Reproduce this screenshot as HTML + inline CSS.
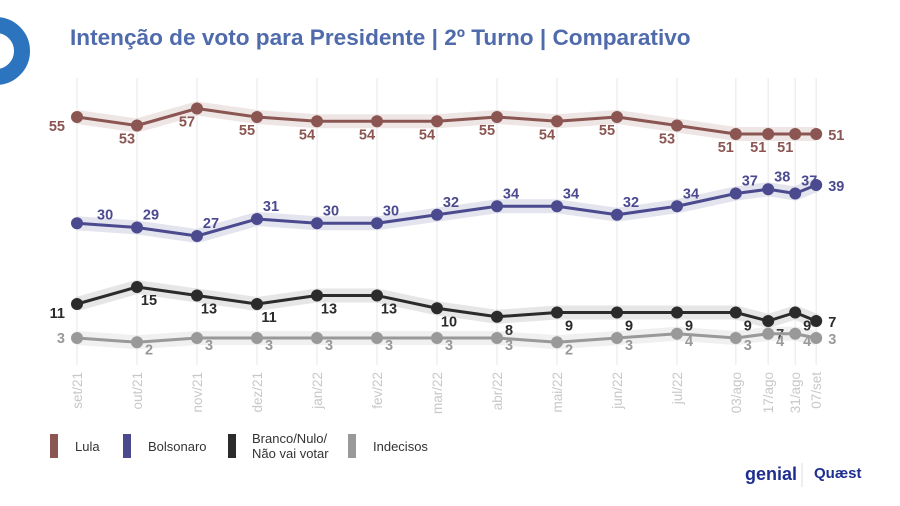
<!DOCTYPE html>
<html><head><meta charset="utf-8"><style>
body{margin:0;background:#fff;width:900px;height:501px;overflow:hidden;font-family:"Liberation Sans",sans-serif}
</style></head><body>
<svg id="c" width="900" height="501" xmlns="http://www.w3.org/2000/svg">
<circle cx="-4" cy="51" r="26" fill="none" stroke="#2d74bf" stroke-width="16"/>
<text x="70" y="45" font-size="22.6" font-weight="bold" fill="#4f6bab">Intenção de voto para Presidente | 2º Turno | Comparativo</text>
<g id="grid"></g><g id="series"></g><g id="xlabels"></g>
<g font-size="13" fill="#333">
<rect x="50" y="434" width="8" height="24" fill="#8b5552"/>
<text x="75" y="451">Lula</text>
<rect x="123" y="434" width="8" height="24" fill="#4b4a8f"/>
<text x="148" y="451">Bolsonaro</text>
<rect x="228" y="434" width="8" height="24" fill="#2b2b2b"/>
<text x="252" y="443">Branco/Nulo/</text>
<text x="252" y="458">Não vai votar</text>
<rect x="348" y="434" width="8" height="24" fill="#999"/>
<text x="373" y="451">Indecisos</text>
</g>
<text x="745" y="480" font-size="18" font-weight="bold" fill="#1f2f8f">genial</text>
<line x1="802" y1="463" x2="802" y2="487" stroke="#ddd"/>
<text x="814" y="478" font-size="15" font-weight="bold" fill="#1f2f8f">Quæst</text>
</svg>
<script>
const categories=["set/21","out/21","nov/21","dez/21","jan/22","fev/22","mar/22","abr/22","mai/22","jun/22","jul/22","03/ago","17/ago","31/ago","07/set"];
const timeMonths=[0,1,2,3,4,5,6,7,8,9,10,10.98,11.52,11.97,12.32];
const lula=[55,53,57,55,54,54,54,55,54,55,53,51,51,51,51];
const bolsonaro=[30,29,27,31,30,30,32,34,34,32,34,37,38,37,39];
const branco=[11,15,13,11,13,13,10,8,9,9,9,9,7,9,7];
const indecisos=[3,2,3,3,3,3,3,3,2,3,4,3,4,4,3];
const X=t=>77+t*60;
const Y=v=>117+(55-v)*4.25;
const NS="http://www.w3.org/2000/svg";
function mk(tag,attrs,parent){const e=document.createElementNS(NS,tag);for(const k in attrs)e.setAttribute(k,attrs[k]);parent.appendChild(e);return e;}
const grid=document.getElementById('grid'),ser=document.getElementById('series'),xl=document.getElementById('xlabels');
categories.forEach((c,i)=>{
 const l=mk('line',{x1:X(timeMonths[i]),x2:X(timeMonths[i]),y1:78,y2:365,stroke:'#ebebeb','stroke-width':1.2},grid);
 
 
 const t=mk('text',{x:0,y:0,'font-size':13.5,fill:'#c8c8c8','text-anchor':'end',transform:`translate(${X(timeMonths[i])+5},372) rotate(-90)`},xl);
 t.textContent=c;
 
 
});
const specs=[
 {name:'lula',data:lula,color:'#8b5552',band:'#8b5552',dx:-10,dy:18},
 {name:'bolsonaro',data:bolsonaro,color:'#4b4a8f',band:'#4b4a8f',dx:14,dy:-8},
 {name:'branco',data:branco,color:'#2b2b2b',band:'#555',dx:12,dy:18},
 {name:'indecisos',data:indecisos,color:'#999',band:'#999',dx:12,dy:12}
];
specs.forEach(s=>{
 const pts=s.data.map((v,i)=>X(timeMonths[i])+','+Y(v)).join(' ');
 const b=mk('polyline',{points:pts,fill:'none',stroke:s.band,'stroke-opacity':0.15,'stroke-width':14,'stroke-linejoin':'round'},ser);
 
 
 const p=mk('polyline',{points:pts,fill:'none',stroke:s.color,'stroke-width':3,'stroke-linejoin':'round'},ser);
 
 
 s.data.forEach((v,i)=>{
  const x=X(timeMonths[i]),y=Y(v);
  const c=mk('circle',{cx:x,cy:y,r:6,fill:s.color},ser);
  
  
  let dx=s.dx,dy=s.dy,anchor='middle';
  if(i===0){dx=-12;dy=s.name==='bolsonaro'?-4:(s.name==='indecisos'?5:14);anchor='end';if(s.name==='bolsonaro'){dx=20;anchor='start';}}
  if(i===s.data.length-1){dx=12;dy=6;anchor='start';}
  const t=mk('text',{x:x+dx,y:y+dy,'font-size':14.5,'font-weight':'bold',fill:s.color,'text-anchor':anchor},ser);
  t.textContent=v;
  
  
 });
});
</script>
</body></html>
